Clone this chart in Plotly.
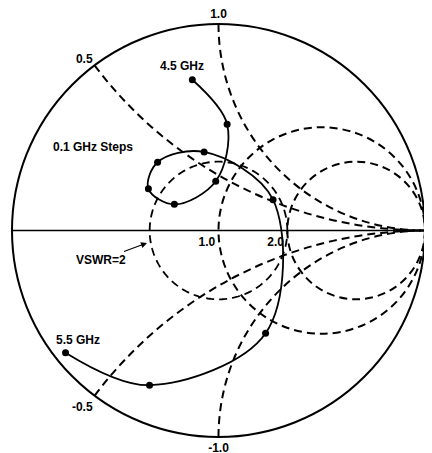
import numpy as np
import plotly.graph_objects as go

# normalized impedance r + jx read at each 0.1 GHz step (4.5 -> 5.5 GHz)
freq_ghz = [4.5, 4.6, 4.7, 4.8, 4.9, 5.0, 5.1, 5.2, 5.3, 5.4, 5.5]
z_real = [0.25, 0.62, 0.87, 0.63, 0.46, 0.45, 0.66, 1.61, 0.83, 0.14, 0.03]
z_imag = [0.81, 0.87, 0.44, 0.17, 0.22, 0.37, 0.59, 0.53, -1.18, -0.64, -0.35]

# grid of the chart
r_circles = [1.0, 2.0]
x_arcs = [-1.0, -0.5, 0.5, 1.0]
vswr = 2

W, H = 432, 453
OFF = 8  # page body margin, the figure is drawn 8px down/right in the browser
ML, MR, MT, MB = 0, 11, 16, 24
PW, PH = W - ML - MR, H - MT - MB
font = dict(family="Liberation Sans, Arial, sans-serif", size=12, color="black", weight="bold")
grid_dash = "8px,5px"


def px(x, y):
    # screen pixel position -> paper coords
    return (x - OFF - ML) / PW, (H - MB - (y - OFF)) / PH


fig = go.Figure()

# constant VSWR circle
g = (vswr - 1) / (vswr + 1) * np.exp(1j * np.linspace(0, 2 * np.pi, 241))
zv = (1 + g) / (1 - g)
fig.add_trace(go.Scattersmith(real=zv.real, imag=zv.imag, mode="lines",
                              line=dict(color="black", width=1.8, dash=grid_dash),
                              hoverinfo="skip"))

fig.add_trace(go.Scattersmith(
    real=z_real, imag=z_imag, mode="lines+markers",
    line=dict(color="black", width=1.8, shape="spline", smoothing=1.0),
    marker=dict(color="black", size=7),
    text=[f"{f:.1f} GHz" for f in freq_ghz],
))

nb = "\u00a0"
fig.update_layout(
    width=W, height=H,
    margin=dict(l=ML, r=MR, t=MT, b=MB),
    paper_bgcolor="white",
    showlegend=False,
    font=font,
    smith=dict(
        domain=dict(x=[0, 1], y=[0, 1]),
        bgcolor="white",
        realaxis=dict(tickvals=r_circles, tickformat=".1f", tickangle=0, side="bottom",
                      ticksuffix=nb * 7,
                      showgrid=True, gridcolor="black", griddash=grid_dash, gridwidth=1.8,
                      linecolor="black", linewidth=1.5, ticks="", tickfont=font,
                      labelalias={"∞": ""}),
        imaginaryaxis=dict(tickvals=x_arcs, tickformat=".1f",
                           showgrid=True, gridcolor="black", griddash=grid_dash, gridwidth=1.8,
                           linecolor="black", linewidth=2, ticks="", tickfont=font,
                           labelalias={"∞": "", "−0.5": "-0.5", "−1.0": "-1.0"}),
    ),
)

labels = [("4.5 GHz", 182, 66), ("0.1 GHz Steps", 93, 147), ("5.5 GHz", 78, 340)]
for txt, x, y in labels:
    ax_, ay_ = px(x, y)
    fig.add_annotation(x=ax_, y=ay_, xref="paper", yref="paper", text=txt,
                       xanchor="center", yanchor="middle", showarrow=False, font=font)

hx, hy = px(147, 243)
fig.add_annotation(x=hx, y=hy, xref="paper", yref="paper", text="VSWR=2",
                   showarrow=True, arrowhead=2, arrowsize=1, arrowwidth=1.2,
                   arrowcolor="black", ax=-46, ay=17, font=font, standoff=0)

fig.write_html("out.html")
